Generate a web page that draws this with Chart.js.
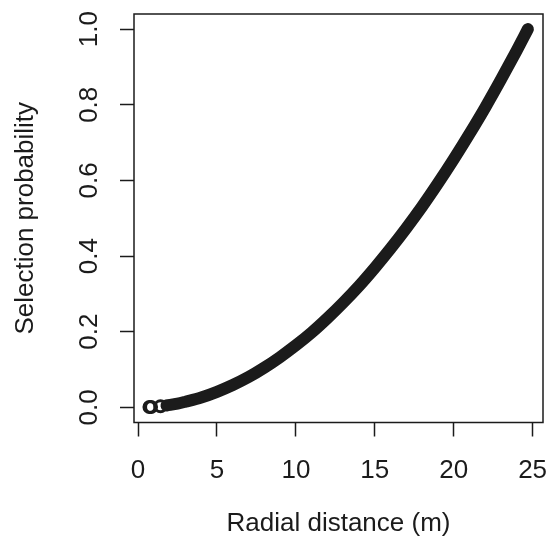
<!DOCTYPE html>
<html>
<head>
<meta charset="utf-8">
<script src="https://cdn.jsdelivr.net/npm/chart.js@4"></script>
<style>
  html, body { margin: 0; padding: 0; background: #fff; }
  canvas { display: block; }
</style>
</head>
<body>
<canvas id="chart" width="555" height="547"></canvas>
<script>
// values
const bandDistance = [1.8, 2.5, 3, 4, 5, 6, 7, 8, 9, 10, 11, 12, 13, 14, 15, 16, 17, 18, 19, 20, 21, 22, 23, 24, 24.7]
const bandProbability = [0.005, 0.010, 0.015, 0.026, 0.041, 0.059, 0.080, 0.105, 0.133, 0.164, 0.198, 0.236, 0.277, 0.321, 0.369, 0.420, 0.474, 0.531, 0.592, 0.656, 0.723, 0.793, 0.867, 0.944, 1.0]
const looseDistance = [0.72, 0.82, 1.42]
const looseProbability = [0.001, 0.001, 0.003]

const xTicks = [0, 5, 10, 15, 20, 25]
const yTicks = [0, 0.2, 0.4, 0.6, 0.8, 1.0]
const yTickLabels = ['0.0', '0.2', '0.4', '0.6', '0.8', '1.0']

const ink = '#1b1b1b'
const font = { family: '"Liberation Sans", Arial, sans-serif', size: 26 }

const toPoints = (xs, ys) => xs.map((x, i) => ({ x: x, y: ys[i] }))

// keep chart.js from shrinking the plot box to make room for edge labels
const noEdgePadding = (s) => {
  s.paddingLeft = 0
  s.paddingRight = 0
  s.paddingTop = 0
  s.paddingBottom = 0
}

const boxPlugin = {
  id: 'box',
  afterDraw(chart) {
    const { ctx, chartArea: a } = chart
    ctx.save()
    ctx.strokeStyle = ink
    ctx.lineWidth = 1.5
    ctx.strokeRect(a.left, a.top, a.right - a.left, a.bottom - a.top)
    ctx.restore()
  },
}

new Chart(document.getElementById('chart'), {
  type: 'scatter',
  data: {
    datasets: [
      {
        data: toPoints(bandDistance, bandProbability),
        showLine: true,
        borderColor: ink,
        borderWidth: 12,
        borderCapStyle: 'round',
        borderJoinStyle: 'round',
        cubicInterpolationMode: 'monotone',
        pointRadius: 0,
      },
      {
        data: toPoints(looseDistance, looseProbability),
        showLine: false,
        pointRadius: 5.5,
        pointBorderWidth: 3,
        pointBorderColor: ink,
        pointBackgroundColor: 'rgba(0,0,0,0)',
      },
    ],
  },
  options: {
    responsive: false,
    animation: false,
    layout: { padding: { top: 14, right: 12, left: 0, bottom: 0 } },
    plugins: { legend: false, tooltip: { enabled: false } },
    scales: {
      x: {
        type: 'linear',
        min: -0.26,
        max: 25.66,
        afterBuildTicks: (s) => { s.ticks = xTicks.map((v) => ({ value: v })) },
        afterFit: (s) => { s.height = 124.5; noEdgePadding(s) },
        border: { display: false },
        grid: { drawOnChartArea: false, tickLength: 14, tickColor: ink, tickWidth: 1.5 },
        ticks: { color: ink, font: font, padding: 19, maxRotation: 0 },
        title: { display: true, text: 'Radial distance (m)', color: ink, font: font, padding: { top: 0, bottom: 8 } },
      },
      y: {
        type: 'linear',
        min: -0.04,
        max: 1.04,
        afterBuildTicks: (s) => { s.ticks = yTicks.map((v) => ({ value: v })) },
        afterFit: (s) => { s.width = 134; noEdgePadding(s) },
        border: { display: false },
        grid: { drawOnChartArea: false, tickLength: 14, tickColor: ink, tickWidth: 1.5 },
        ticks: {
          color: ink,
          font: font,
          padding: 12,
          minRotation: 90,
          maxRotation: 90,
          crossAlign: 'center',
          callback: (v, i) => yTickLabels[i],
        },
        title: { display: true, text: 'Selection probability', color: ink, font: font, padding: { top: 10, bottom: 0 } },
      },
    },
  },
  plugins: [boxPlugin],
})
</script>
</body>
</html>
